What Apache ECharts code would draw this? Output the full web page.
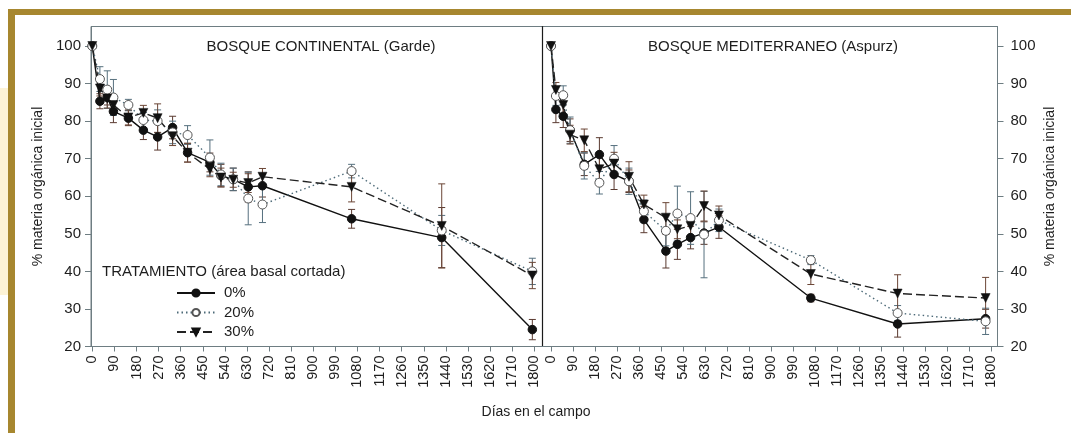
<!DOCTYPE html>
<html>
<head>
<meta charset="utf-8">
<script src="https://cdn.jsdelivr.net/npm/echarts@6/dist/echarts.min.js"></script>
<style>
html, body { margin: 0; padding: 0; background: #fff; }
#chart { width: 1071px; height: 433px; }
</style>
</head>
<body>
<div id="chart"></div>
<script>
// ejes
const xTicks = [0, 90, 180, 270, 360, 450, 540, 630, 720, 810, 900, 990, 1080, 1170, 1260, 1350, 1440, 1530, 1620, 1710, 1800]
const yTicks = [20, 30, 40, 50, 60, 70, 80, 90, 100]
const treatments = ['0%', '20%', '30%']

// BOSQUE CONTINENTAL (Garde)
const daysGarde = [0, 31, 61, 86, 147, 208, 266, 327, 388, 479, 524, 574, 635, 693, 1056, 1423, 1792]
const garde0 = [100, 85.3, 86.3, 82.6, 80.8, 77.6, 75.8, 78.3, 71.6, 69.0, 65.5, 64.5, 62.5, 62.8, 54.0, 49.0, 24.5]
const garde20 = [100, 91.2, 88.4, 86.3, 84.3, 80.3, 80.0, 77.0, 76.3, 70.3, 65.8, 64.5, 59.4, 57.8, 66.7, 50.9, 40.0]
const garde30 = [100, 88.7, 86.0, 84.3, 81.0, 82.2, 80.8, 76.0, 71.6, 67.2, 65.0, 64.4, 63.5, 65.2, 62.5, 52.1, 38.9]
const errGarde0 = [0, 2.0, 2.0, 3.0, 2.0, 2.5, 3.5, 3.0, 2.5, 2.5, 3.0, 3.0, 4.0, 3.0, 2.5, 8.0, 2.7]
const errGarde20 = [0, 3.3, 5.0, 4.8, 1.5, 2.0, 3.0, 3.0, 2.5, 4.7, 3.0, 3.0, 7.0, 4.8, 1.8, 4.0, 3.5]
const errGarde30 = [0, 2.0, 2.5, 2.5, 2.0, 2.0, 3.8, 2.5, 2.5, 2.0, 2.5, 2.0, 2.5, 2.2, 4.0, 11.2, 3.5]

// BOSQUE MEDITERRANEO (Aspurz)
const daysAspurz = [0, 20, 50, 78, 136, 198, 258, 319, 380, 470, 517, 571, 626, 687, 1063, 1418, 1778]
const aspurz0 = [100, 83.1, 81.3, 77.6, 68.5, 71.1, 65.8, 64.0, 53.8, 45.4, 47.2, 49.0, 50.2, 51.8, 32.9, 26.0, 27.4]
const aspurz20 = [100, 86.7, 86.9, 77.6, 68.1, 63.6, 70.0, 64.0, 56.0, 50.8, 55.4, 54.2, 49.8, 53.6, 43.0, 28.9, 26.7]
const aspurz30 = [100, 88.3, 84.3, 76.4, 74.9, 67.2, 68.7, 65.2, 57.8, 54.3, 51.2, 52.1, 57.4, 54.9, 39.3, 34.1, 32.9]
const errAspurz0 = [0, 3.5, 3.0, 3.0, 3.0, 4.5, 4.0, 3.0, 3.5, 4.5, 4.0, 3.0, 3.0, 3.0, 1.0, 3.5, 2.5]
const errAspurz20 = [0, 2.5, 2.5, 3.5, 3.5, 3.0, 3.5, 3.5, 3.0, 4.0, 7.3, 7.0, 11.5, 3.0, 1.2, 2.0, 3.5]
const errAspurz30 = [0, 2.0, 2.5, 2.5, 3.0, 3.5, 3.0, 4.0, 2.5, 4.0, 2.5, 2.5, 4.0, 2.5, 2.8, 5.0, 5.5]

const frameColor = '#6e7d82'
const textColor = '#1e1e1e'
const font = 'Liberation Sans, Arial, sans-serif'

const styles = {
  '0%': { line: { color: '#111', width: 1.4, type: 'solid' }, symbol: 'circle', size: 8.5, item: { color: '#111', borderColor: '#111', borderWidth: 1 }, err: '#5a3a30' },
  '20%': { line: { color: '#4d6a78', width: 1.4, type: [1.5, 3] }, symbol: 'circle', size: 9, item: { color: '#fff', borderColor: '#555', borderWidth: 1 }, err: '#56707e' },
  '30%': { line: { color: '#222', width: 1.4, type: [9, 4] }, symbol: 'triangle', size: 9, item: { color: '#111', borderColor: '#111', borderWidth: 0.5 }, err: '#6b4636' }
}

function lineSeries(name, days, vals, idx) {
  const s = styles[name]
  return {
    name, type: 'line', xAxisIndex: idx, yAxisIndex: idx, z: 3,
    data: days.map((d, i) => [d, vals[i]]),
    symbol: s.symbol, symbolSize: s.size, symbolRotate: s.symbol === 'triangle' ? 180 : 0,
    showSymbol: true, lineStyle: s.line, itemStyle: s.item, silent: true, animation: false
  }
}

function errSeries(name, days, vals, errs, idx) {
  const color = styles[name].err
  return {
    type: 'custom', xAxisIndex: idx, yAxisIndex: idx, z: 2, silent: true, animation: false,
    data: days.map((d, i) => [d, vals[i] - errs[i], vals[i] + errs[i]]),
    encode: { x: 0, y: [1, 2] },
    renderItem: (params, api) => {
      if (api.value(2) - api.value(1) <= 0) return null
      const lo = api.coord([api.value(0), api.value(1)])
      const hi = api.coord([api.value(0), api.value(2)])
      const w = 3.5
      const st = { stroke: color, lineWidth: 1 }
      return {
        type: 'group', children: [
          { type: 'line', shape: { x1: lo[0], y1: lo[1], x2: hi[0], y2: hi[1] }, style: st },
          { type: 'line', shape: { x1: lo[0] - w, y1: lo[1], x2: lo[0] + w, y2: lo[1] }, style: st },
          { type: 'line', shape: { x1: hi[0] - w, y1: hi[1], x2: hi[0] + w, y2: hi[1] }, style: st }
        ]
      }
    }
  }
}

function xAxis(idx, min, max) {
  return {
    type: 'value', gridIndex: idx, min, max,
    axisLine: { show: true, onZero: false, lineStyle: { color: frameColor, width: 1 } },
    axisTick: { show: true, customValues: xTicks, length: 5, lineStyle: { color: frameColor } },
    axisLabel: { customValues: xTicks, rotate: 90, fontSize: 14.5, fontFamily: font, color: textColor, margin: 9, formatter: v => String(v) },
    splitLine: { show: false }
  }
}

function yAxis(idx, position, margin) {
  return {
    type: 'value', gridIndex: idx, position, min: 20, max: 105.2,
    name: '% materia orgánica inicial', nameLocation: 'middle', nameRotate: 90, nameGap: 46,
    nameTextStyle: { fontSize: 14, fontFamily: font, color: textColor },
    axisLine: { show: true, onZero: false, lineStyle: { color: frameColor, width: 1 } },
    axisTick: { show: true, customValues: yTicks, length: 6, lineStyle: { color: frameColor } },
    axisLabel: { customValues: yTicks, fontSize: 15, fontFamily: font, color: textColor, margin, formatter: v => String(v) },
    splitLine: { show: false }
  }
}

const chart = echarts.init(document.getElementById('chart'))
const gridStyle = { show: true, borderColor: frameColor, borderWidth: 1, backgroundColor: 'transparent' }

chart.setOption({
  animation: false,
  backgroundColor: '#fff',
  textStyle: { fontFamily: font },
  title: [
    { text: 'BOSQUE CONTINENTAL (Garde)', left: 316, top: 34, textAlign: 'center', textStyle: { fontSize: 15, fontWeight: 'normal', color: textColor, fontFamily: font } },
    { text: 'BOSQUE MEDITERRANEO (Aspurz)', left: 768, top: 34, textAlign: 'center', textStyle: { fontSize: 15, fontWeight: 'normal', color: textColor, fontFamily: font } },
    { text: 'TRATAMIENTO (área basal cortada)', left: 97, top: 259, textStyle: { fontSize: 15, fontWeight: 'normal', color: textColor, fontFamily: font } },
    { text: 'Días en el campo', left: 531, top: 400, textAlign: 'center', textStyle: { fontSize: 14, fontWeight: 'normal', color: textColor, fontFamily: font } }
  ],
  legend: {
    data: treatments, orient: 'vertical', left: 176, top: 284.5, padding: 0,
    itemWidth: 38, itemHeight: 9, itemGap: 2.5, selectedMode: false,
    textStyle: { fontSize: 15, lineHeight: 17, color: textColor, fontFamily: font, padding: [0, 0, 0, 4] }
  },
  grid: [
    { left: 91, top: 26.5, width: 451.5, height: 320, ...gridStyle },
    { left: 542.5, top: 26.5, width: 455, height: 320, ...gridStyle }
  ],
  xAxis: [xAxis(0, -5.3, 1833.4), xAxis(1, -34.8, 1826.6)],
  yAxis: [
    yAxis(0, 'left', 10),
    yAxis(1, 'right', 13),
    { type: 'value', gridIndex: 0, position: 'right', min: 20, max: 105.2,
      axisLine: { show: true, onZero: false, lineStyle: { color: '#1a1a1a', width: 1.2 } },
      axisTick: { show: false }, axisLabel: { show: false }, splitLine: { show: false } }
  ],
  graphic: [
    { type: 'rect', shape: { x: 0, y: 88, width: 9, height: 207 }, style: { fill: '#fdf3d6' }, silent: true },
    { type: 'rect', shape: { x: 8, y: 9, width: 1063, height: 6 }, style: { fill: '#a7872f' }, silent: true },
    { type: 'rect', shape: { x: 8, y: 9, width: 7, height: 424 }, style: { fill: '#a7872f' }, silent: true }
  ],
  series: [
    errSeries('0%', daysGarde, garde0, errGarde0, 0),
    errSeries('20%', daysGarde, garde20, errGarde20, 0),
    errSeries('30%', daysGarde, garde30, errGarde30, 0),
    errSeries('0%', daysAspurz, aspurz0, errAspurz0, 1),
    errSeries('20%', daysAspurz, aspurz20, errAspurz20, 1),
    errSeries('30%', daysAspurz, aspurz30, errAspurz30, 1),
    lineSeries('0%', daysGarde, garde0, 0),
    lineSeries('20%', daysGarde, garde20, 0),
    lineSeries('30%', daysGarde, garde30, 0),
    lineSeries('0%', daysAspurz, aspurz0, 1),
    lineSeries('20%', daysAspurz, aspurz20, 1),
    lineSeries('30%', daysAspurz, aspurz30, 1)
  ]
})
</script>
</body>
</html>
